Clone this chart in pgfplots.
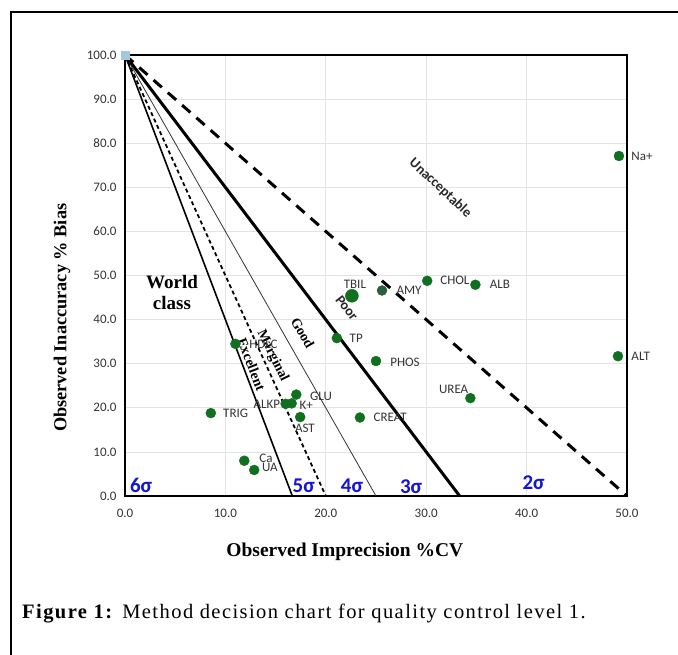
\documentclass[border=0pt]{standalone}
\usepackage{fontspec}
\setmainfont{Carlito}
\newfontfamily\tnr{Liberation Serif}
\newfontfamily\capfont[LetterSpace=7]{Liberation Serif}
\usepackage{pgfplots}
\usepackage{pgfplotstable}
\pgfplotsset{compat=1.18}
\definecolor{ptgreen}{RGB}{16,112,32}
\definecolor{amygreen}{RGB}{40,95,60}
\definecolor{sigblue}{RGB}{20,20,215}
\definecolor{sqblue}{RGB}{160,200,222}

\pgfplotstableread{
x y label dx dy
49.2 77.1 {Na+} 23 0
49.1 31.7 ALT 22.7 0
30.1 48.8 CHOL 27.7 0
34.9 47.9 ALB 24.4 0
21.1 35.8 TP 19.4 0
25.0 30.6 PHOS 29 -1
34.4 22.2 UREA -16.7 9
23.4 17.8 CREAT 30.3 0
11.0 34.5 HDLC 28 0
8.55 18.8 TRIG 24.8 0
17.06 23.0 GLU 24.7 -2
16.0 20.9 ALKP -18.7 -0.5
16.6 21.0 {K+} 14.6 -1.8
17.45 17.9 AST 4.7 -11
11.88 8.0 Ca 21.7 2.7
12.87 5.9 UA 15.7 2.3
}\pts

\pgfplotstableread{
x y label dx dy
25.6 46.6 AMY 27 0
}\amy

\pgfplotstableread{
x y label dx dy
22.6 45.4 TBIL 3 11
}\tbil

\pgfplotsset{
  labelled/.style={
    nodes near coords, point meta=explicit symbolic,
    visualization depends on={\thisrow{dx}\as\mydx},
    visualization depends on={\thisrow{dy}\as\mydy},
    every node near coord/.append style={xshift=\mydx pt, yshift=\mydy pt}
  }
}

\begin{document}
\begin{tikzpicture}
\begin{axis}[
  at={(0,0)}, anchor=south west,
  scale only axis, width=502pt, height=441pt,
  xmin=0, xmax=50, ymin=0, ymax=100,
  xtick={0,10,...,50}, ytick={0,10,...,100},
  grid=major, grid style={gray!22, line width=0.7pt},
  major tick length=0pt,
  axis line style={black, line width=1.8pt},
  clip=false,
  tick label style={font=\fontsize{13}{13}\selectfont, text=black!80,
    /pgf/number format/fixed, /pgf/number format/fixed zerofill,
    /pgf/number format/precision=1, /pgf/number format/assume math mode=true},
  yticklabel style={xshift=-5pt},
  xticklabel style={yshift=-10pt},
  xlabel={\tnr\bfseries Observed Imprecision \%CV},
  ylabel={\tnr\bfseries Observed Inaccuracy \% Bias},
  xlabel style={at={(axis description cs:0.438,-0.127)}, anchor=center, font=\fontsize{19.5}{19.5}\selectfont},
  ylabel style={at={(axis description cs:-0.1255,0.404)}, anchor=center, font=\fontsize{18.3}{18.3}\selectfont},
  nodes near coords style={font=\fontsize{13}{13}\selectfont, text=black!80, anchor=center},
]
% decision lines
\addplot[black, line width=1.6pt] coordinates {(0,100) (16.667,0)};
\addplot[black, line width=1.8pt, dash pattern=on 4pt off 3pt] coordinates {(0,100) (20,0)};
\addplot[black!80, line width=0.8pt] coordinates {(0,100) (25,0)};
\addplot[black, line width=3pt] coordinates {(0,100) (33.333,0)};
\addplot[black, line width=3pt, dash pattern=on 11pt off 8pt] coordinates {(0,100) (50,0)};
\addplot[only marks, mark=square*, mark size=4pt, color=sqblue] coordinates {(0,100)};

% data points
\addplot[only marks, mark=*, mark size=5pt, color=ptgreen, labelled]
  table[x=x, y=y, meta=label] {\pts};
\addplot[only marks, mark=*, mark size=5pt, color=amygreen, labelled]
  table[x=x, y=y, meta=label] {\amy};
\addplot[only marks, mark=*, mark size=6.5pt, color=ptgreen, labelled]
  table[x=x, y=y, meta=label] {\tbil};

% region labels
\node[font=\tnr\bfseries\fontsize{19}{21}\selectfont, align=center] at (axis cs:4.68,46.1) {World\\class};
\node[font=\tnr\bfseries\fontsize{14}{14}\selectfont, rotate=-69] at (axis cs:12.6,29.9) {Excellent};
\node[font=\tnr\bfseries\fontsize{14}{14}\selectfont, rotate=-64] at (axis cs:14.7,31.8) {Marginal};
\node[font=\tnr\bfseries\fontsize{14}{14}\selectfont, rotate=-60] at (axis cs:17.7,37.0) {Good};
\node[font=\bfseries\fontsize{14}{14}\selectfont, text=black!85, rotate=-52] at (axis cs:22.1,42.6) {Poor};
\node[font=\bfseries\fontsize{14}{14}\selectfont, text=black!85, rotate=-43] at (axis cs:31.4,69.8) {Unacceptable};

% sigma labels
\node[font=\bfseries\fontsize{21}{21}\selectfont, text=sigblue] at (axis cs:1.6,2.5) {6σ};
\node[font=\bfseries\fontsize{21}{21}\selectfont, text=sigblue] at (axis cs:17.8,2.3) {5σ};
\node[font=\bfseries\fontsize{21}{21}\selectfont, text=sigblue] at (axis cs:22.6,2.3) {4σ};
\node[font=\bfseries\fontsize{21}{21}\selectfont, text=sigblue] at (axis cs:28.5,2.0) {3σ};
\node[font=\bfseries\fontsize{21}{21}\selectfont, text=sigblue] at (axis cs:40.7,3.0) {2σ};
\end{axis}

% outer frame and caption
\draw[line width=1.3pt] (-114pt,-160pt) -- (-114pt,484pt) -- (556pt,484pt);
\node[anchor=base west, inner sep=0pt, font=\capfont\fontsize{20.5}{20.5}\selectfont] at (-103pt,-122pt)
  {\textbf{Figure 1:} Method decision chart for quality control level 1.};

\pgfresetboundingbox
\useasboundingbox (-125pt,-158pt) rectangle (553pt,496pt);
\end{tikzpicture}
\end{document}
